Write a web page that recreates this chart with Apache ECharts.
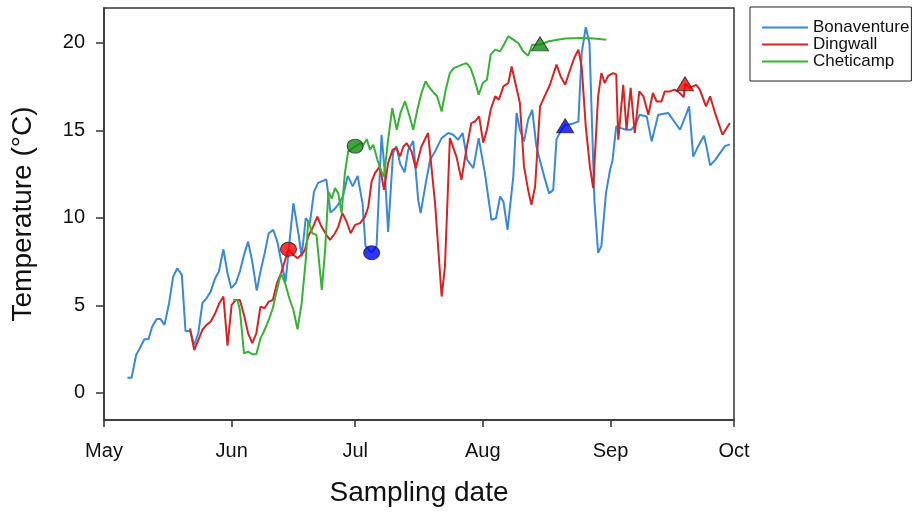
<!DOCTYPE html>
<html>
<head>
    <meta charset="UTF-8" />
    <title>Water temperature</title>
    <script type="text/javascript" src="https://cdn.jsdelivr.net/npm/echarts@6/dist/echarts.min.js"></script>
    <style>
        html, body { margin: 0; padding: 0; background: #fff; }
    </style>
</head>
<body>

<div id="main" style="width: 915px;height: 512px;"></div>

<script>
    // x values are days after 1 May
    var monthDays = [0, 31, 61, 92, 123, 153];
    var monthNames = ['May', 'Jun', 'Jul', 'Aug', 'Sep', 'Oct'];
    var tempTicks = [0, 5, 10, 15, 20];

    var sites = ['Bonaventure', 'Dingwall', 'Cheticamp'];
    var colors = ['#3a88d8', '#d42424', '#36b336'];

    var bonaventure = [
        [5.7,0.86],[6.7,0.86],[7.8,2.16],[8.7,2.54],[9.8,3.06],[10.8,3.06],[11.7,3.78],[12.8,4.22],[13.7,4.22],[14.7,3.88],
        [15.8,5.12],[16.8,6.64],[17.8,7.12],[18.9,6.74],[19.8,3.53],[20.9,3.53],[21.9,2.73],[22.9,3.4],[23.9,5.12],[24.9,5.4],
        [25.9,5.78],[27,6.55],[27.9,6.93],[29,8.2],[30,6.83],[30.9,5.98],[32,6.26],[33,6.93],[34,7.88],[35,8.64],
        [36,7.5],[37.1,5.84],[38,6.93],[39.1,8.07],[40,9.12],[41.1,9.31],[42.1,8.64],[43.1,7.4],[44.1,6.35],[45.1,8.74],
        [46,10.84],[47.2,9.12],[48,7.79],[49,9.98],[50,9.7],[51,11.5],[52,12.0],[53,12.1],[54,12.2],[55,10.3],
        [56,10.5],[57,10.8],[58,11.2],[59.2,12.4],[60.4,11.8],[61.6,12.4],[62.8,10.8],[63.5,8.4],[65,8.0],[66.2,8.4],
        [67.4,14.75],[68.2,12.6],[69,9.2],[70.2,13.7],[71,14.1],[71.9,13.1],[73,12.6],[73.9,13.9],[75.1,14.4],[76.3,11.03],
        [76.9,10.27],[78,11.79],[79.2,13.32],[80.4,13.8],[82,14.56],[83.6,14.85],[84.8,14.75],[86,14.47],[87.1,14.85],[88.2,13.32],
        [89.7,12.84],[91,14.56],[92.5,12.56],[94.1,9.89],[95.2,9.98],[96.2,11.22],[97,10.93],[98,9.31],[99.4,12.36],[100.2,16.0],
        [101,15.04],[102,14.37],[103,15.61],[104,16.18],[105,14.1],[106.3,12.9],[107.1,12.2],[108.1,11.4],[109.1,11.6],[109.9,14.5],
        [111,15.0],[112,15.3],[114,15.4],[115.2,15.5],[116,19.4],[117,20.9],[117.9,20.0],[119.1,11.0],[120,8.0],[120.8,8.4],
        [121.9,11.4],[122.9,12.75],[123.5,13.3],[124.4,15.23],[125.6,15.13],[126.8,15.04],[128,15.04],[129,15.3],[130.1,15.9],[131.8,15.8],
        [133,14.37],[134.6,15.9],[137,16.0],[139.9,15.04],[141.2,15.8],[142.1,16.37],[143.1,13.5],[144.3,14.1],[145.7,14.7],[146.3,14.1],
        [147.2,13.0],[148.4,13.3],[149.6,13.7],[150.8,14.1],[152,14.2]
    ];

    var dingwall = [
        [20.9,3.68],[21.9,2.44],[22.9,3.0],[23.9,3.6],[24.9,3.88],[25.9,4.06],[27,4.54],[28,5.12],[29,5.5],[30,2.69],
        [31,5.02],[32,5.3],[33,5.3],[34,4.45],[35,3.4],[36,2.83],[37,3.4],[38,4.92],[39,4.83],[40,5.21],
        [41,5.3],[42,6.26],[43,6.83],[44,7.6],[44.8,8.2],[46,7.88],[47,7.69],[48,7.9],[48.8,8.17],[49.6,8.93],
        [50.8,9.5],[51.8,10.07],[52.8,9.5],[54,9.03],[54.9,8.74],[56.1,9.12],[56.9,9.5],[57.9,10.27],[58.9,9.79],[59.9,9.12],
        [61,9.6],[62.2,9.7],[63.4,10.07],[64.2,10.65],[65,12.08],[65.8,12.56],[67,12.94],[68,11.6],[69,13.13],[70.1,13.9],
        [71,13.99],[71.9,13.51],[72.7,14.08],[73.5,14.27],[74.7,13.8],[75.7,12.84],[77.1,14.08],[78.7,14.85],[80.4,10.84],[82,5.5],
        [82.8,7.2],[84,14.56],[85.6,13.5],[86.8,12.18],[88,13.9],[89.2,15.42],[90.1,15.51],[91.1,15.8],[92.1,14.3],[93,15.04],
        [93.9,16.18],[95,16.95],[95.9,16.76],[97,17.52],[98.2,17.71],[99,18.66],[100,17.61],[101,16.57],[102,12.94],[103,11.6],
        [103.8,10.74],[104.7,11.79],[105.9,16.37],[107,16.95],[108.3,17.61],[109.9,18.76],[110.9,18.09],[112,17.61],[113.2,18.47],[114.2,19.14],
        [115.2,19.62],[116,18.66],[117,15.23],[118,12.94],[118.8,11.7],[120,16.95],[120.8,18.28],[121.6,17.7],[122.4,18.1],[123.6,18.28],
        [124.4,18.2],[124.9,14.47],[126.1,17.6],[126.9,15.04],[127.9,17.43],[128.9,14.85],[130,17.23],[131,16.95],[132.2,15.9],[133.3,17.14],
        [134.2,16.66],[135.4,16.66],[136.2,17.23],[137.4,17.23],[138.6,17.33],[139.8,17.14],[140.8,16.9],[141.1,17.67],[142.3,17.43],[143.8,17.61],
        [144.7,17.33],[146.2,16.37],[147.2,16.95],[148.4,16.0],[150.2,14.75],[152,15.42]
    ];

    var cheticamp = [
        [31.4,5.3],[32.4,5.3],[33,4.73],[34,2.25],[35,2.35],[36,2.2],[37,2.2],[38,3.11],[39,3.59],[40,4.16],
        [41,4.83],[42,5.88],[43,6.83],[44,6.26],[45,5.4],[46,4.73],[47,3.63],[48,5.12],[49,7.6],[49.6,9.85],
        [50.6,9.12],[51.6,9.03],[52.9,5.88],[53.7,8.17],[54.5,11.5],[55.3,11.1],[56.1,11.7],[56.9,11.4],[57.7,10.27],[58.5,12.56],
        [59.3,13.8],[61,14.08],[62.2,14.27],[63,14.18],[63.8,14.5],[64.6,13.9],[65.4,14.18],[66.4,13.32],[67.2,12.75],[68,12.36],
        [69,14.47],[70,16.28],[71.1,15.04],[72,16.0],[73.1,16.66],[74.1,15.9],[75.1,15.04],[76.1,16.18],[77.1,17.14],[78.1,17.8],
        [79.1,17.43],[80.1,17.14],[80.9,16.95],[82,16.08],[83,17.33],[84,18.28],[85,18.57],[86,18.66],[87,18.76],[88,18.85],
        [89,18.57],[90,17.9],[91,17.04],[92,17.71],[93,17.9],[93.9,19.33],[95,19.62],[96.2,19.52],[97.1,19.9],[98.2,20.38],
        [99.4,20.19],[100.6,20.0],[101.8,19.52],[103,19.27],[104,19.9],[106,19.9],[108,20.1],[112,20.25],[116,20.28],[119,20.25],
        [122,20.19]
    ];

    // sampling events: [day, temp]
    var circleDays = [[44.8, 8.2], [65, 8.0], [61, 14.1]];        // Dingwall, Bonaventure, Cheticamp
    var circleColors = ['#ff0000', '#0000ff', '#108a10'];
    var triangleDays = [[141.1, 17.67], [112, 15.27], [105.9, 19.95]];
    var triangleColors = ['#ff0000', '#0000ff', '#108a10'];

    var fontName = 'Liberation Sans';

    var obj = document.getElementById("main");
    var mychart = echarts.init(obj);

    var series = [];
    [bonaventure, dingwall, cheticamp].forEach(function (d, i) {
        series.push({
            name: sites[i],
            type: 'line',
            data: d,
            symbol: 'none',
            lineStyle: {width: 2, color: colors[i]},
            itemStyle: {color: colors[i]},
            z: 2
        });
    });

    function markerSeries(points, cols, symbol) {
        return {
            type: 'scatter',
            symbol: symbol,
            symbolSize: symbol === 'circle' ? [16, 14] : [17, 14],
            data: points.map(function (p, i) {
                return {
                    value: p,
                    itemStyle: {color: cols[i], borderColor: '#222', borderWidth: 1}
                };
            }),
            z: 5
        };
    }
    series.push(markerSeries(circleDays, circleColors, 'circle'));
    series.push(markerSeries(triangleDays, triangleColors, 'triangle'));

    option = {
        animation: false,
        textStyle: {fontFamily: fontName},
        grid: {
            left: 104, right: 181, top: 8, bottom: 92,
            outerBoundsMode: 'none',
            containLabel: false,
            show: true, borderColor: '#333', borderWidth: 1.5
        },
        legend: {
            data: sites,
            orient: 'vertical',
            left: 750,
            top: 7,
            padding: [12, 2, 11, 12],
            itemGap: 0,
            icon: 'rect',
            itemWidth: 46,
            itemHeight: 2,
            borderColor: '#222',
            borderWidth: 1,
            textStyle: {fontSize: 17, lineHeight: 16, color: '#111', fontFamily: fontName}
        },
        xAxis: {
            type: 'value',
            min: 0,
            max: 153,
            name: 'Sampling date',
            nameLocation: 'middle',
            nameGap: 59,
            nameMoveOverlap: false,
            nameTextStyle: {fontSize: 28, color: '#111', fontFamily: fontName},
            splitLine: {show: false},
            axisLine: {onZero: false, lineStyle: {color: '#333', width: 1.5}},
            axisTick: {customValues: monthDays, length: 7, lineStyle: {color: '#333', width: 1.5}},
            axisLabel: {
                customValues: monthDays,
                margin: 21,
                fontSize: 20,
                color: '#111',
                formatter: function (v) {
                    return monthNames[monthDays.indexOf(v)];
                }
            }
        },
        yAxis: {
            type: 'value',
            min: -1.56,
            max: 22.0,
            name: 'Temperature (°C)',
            nameLocation: 'middle',
            nameRotate: 90,
            nameGap: 67,
            nameMoveOverlap: false,
            nameTextStyle: {fontSize: 28, color: '#111', fontFamily: fontName},
            splitLine: {show: false},
            axisLine: {show: true, onZero: false, lineStyle: {color: '#333', width: 1.5}},
            axisTick: {show: true, customValues: tempTicks, length: 8, lineStyle: {color: '#333', width: 1.5}},
            axisLabel: {customValues: tempTicks, margin: 19, fontSize: 20, color: '#111'}
        },
        series: series
    };

    mychart.setOption(option);
</script>

</body>
</html>
